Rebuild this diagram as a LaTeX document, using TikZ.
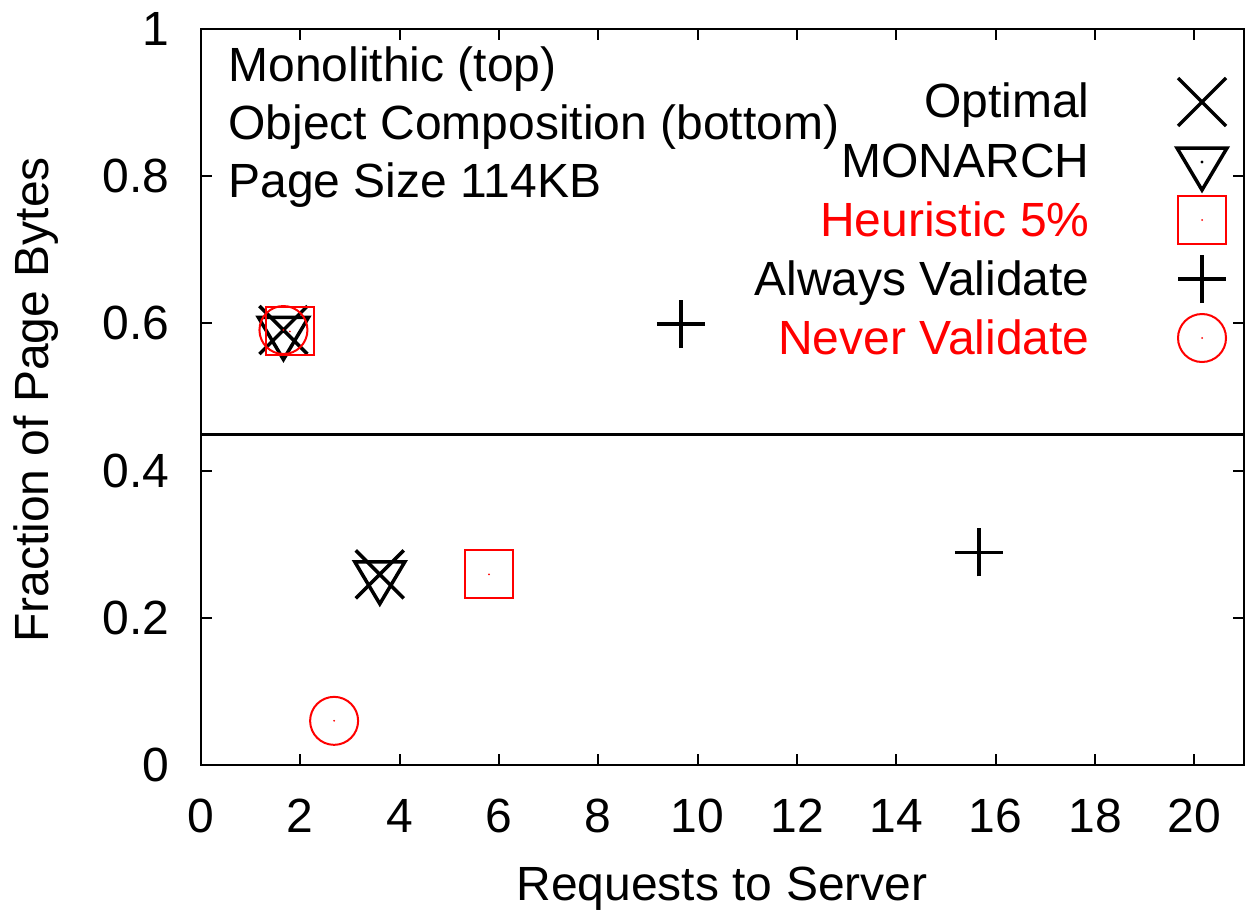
\documentclass[tikz,border=0pt]{standalone}
\usepackage{fontspec}
\setmainfont{Liberation Sans}
\begin{document}
\begin{tikzpicture}[x=0.5pt,y=-0.5pt,
  lbl/.style={inner sep=0pt, font=\fontsize{24pt}{29pt}\selectfont},
  frame/.style={line width=1pt, black},
  mk/.style={line width=1.75pt, black, line cap=butt},
  mkred/.style={line width=1pt, red},
  pics/xmk/.style={code={\draw[mk] (-12pt,-12pt)--(12pt,12pt) (-12pt,12pt)--(12pt,-12pt);}},
  pics/plusmk/.style={code={\draw[mk] (-12pt,0)--(12pt,0) (0,-12pt)--(0,12pt);}},
  pics/trimk/.style={code={\draw[mk, line join=miter] (-12.5pt,7pt)--(12.5pt,7pt)--(0,-14pt)--cycle;
                           \fill[black] (0,0) circle (0.8pt);}},
  pics/sqmk/.style={code={\draw[mkred] (-12pt,-12pt) rectangle (12pt,12pt);
                          \fill[red] (0,0) circle (0.5pt);}},
  pics/cimk/.style={code={\draw[mkred] (0,0) circle (12pt);
                          \fill[red] (0,0) circle (0.5pt);}}
]
\useasboundingbox (0,0) rectangle (1251,915);

% plot frame
\draw[frame] (201,29) rectangle (1244,765);

% x ticks (bottom and mirrored on top) with labels
\foreach \v in {0,2,...,20}{
  \pgfmathsetmacro{\xx}{201+\v*49.667}
  \draw[frame] (\xx,765) -- (\xx,754);
  \draw[frame] (\xx,29) -- (\xx,40);
  \node[lbl, anchor=base] (xt\v) at (\xx,832) {\v};
}
% y ticks (left and mirrored on right) with labels
\foreach \v/\t in {0/0,0.2/0.2,0.4/0.4,0.6/0.6,0.8/0.8,1/1}{
  \pgfmathsetmacro{\yy}{765-\v*736}
  \draw[frame] (201,\yy) -- (212,\yy);
  \draw[frame] (1244,\yy) -- (1233,\yy);
  \node[lbl, anchor=east] at (170,\yy) {\t};
}

% separator between the two halves
\draw[line width=1.5pt] (201,434) -- (1244,434);

% axis titles
\node[lbl, anchor=base] (xlab) at (722,900) {Requests to Server};
\node[lbl, anchor=base, rotate=90] (ylab) at (48,400) {Fraction of Page Bytes};

% caption block
\node[lbl, anchor=base west] (c1) at (228,82) {Monolithic (top)};
\node[lbl, anchor=base west] (c2) at (228,140) {Object Composition (bottom)};
\node[lbl, anchor=base west] (c3) at (228,197) {Page Size 114KB};

% key
\node[lbl, anchor=base east] (k1) at (1090,118) {Optimal};
\node[lbl, anchor=base east] (k2) at (1090,177) {MONARCH};
\node[lbl, anchor=base east, text=red] (k3) at (1090,236) {Heuristic 5\%};
\node[lbl, anchor=base east] (k4) at (1090,295) {Always Validate};
\node[lbl, anchor=base east, text=red] (k5) at (1090,354) {Never Validate};
\pic at (1202,102) {xmk};
\pic at (1202,162) {trimk};
\pic at (1202,220) {sqmk};
\pic at (1202,279) {plusmk};
\pic at (1202,338) {cimk};

% data, in axis units
\begin{scope}[shift={(201,765)}, x=24.8335pt, y=368pt]
  % Optimal
  \pic at (1.66,0.591) {xmk};
  \pic at (3.60,0.259) {xmk};
  % MONARCH
  \pic at (1.66,0.589) {trimk};
  \pic at (3.60,0.257) {trimk};
  % Heuristic 5%
  \pic at (1.79,0.589) {sqmk};
  \pic at (5.80,0.259) {sqmk};
  % Always Validate
  \pic at (9.66,0.599) {plusmk};
  \pic at (15.66,0.289) {plusmk};
  % Never Validate
  \pic at (1.66,0.591) {cimk};
  \pic at (2.68,0.060) {cimk};
\end{scope}
\end{tikzpicture}
\end{document}
